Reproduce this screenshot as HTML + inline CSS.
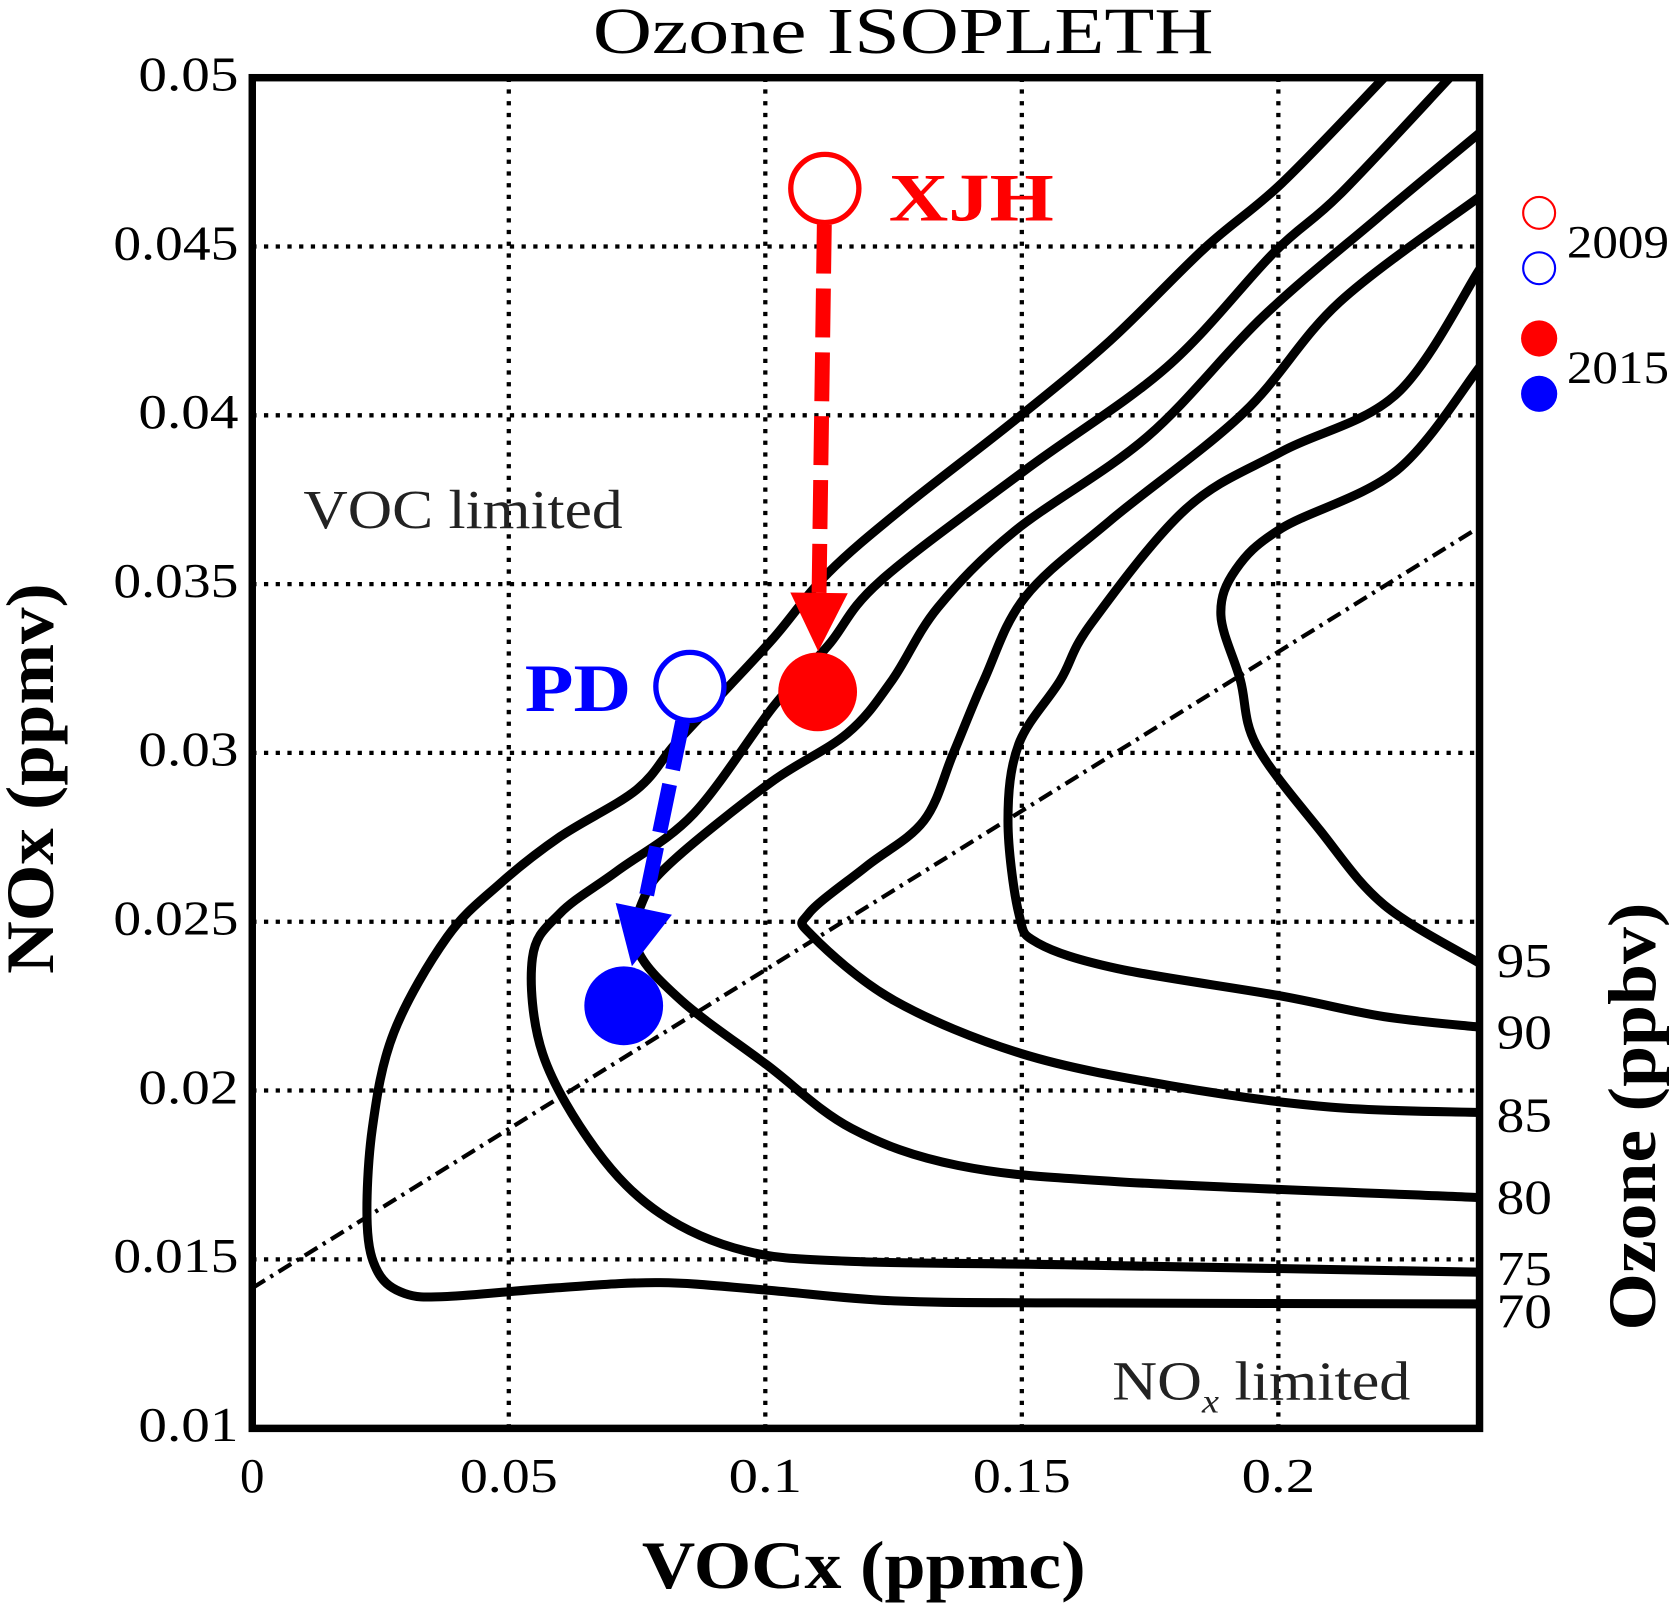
<!DOCTYPE html>
<html><head><meta charset="utf-8"><style>
html,body{margin:0;padding:0;background:#fff;}
svg{display:block;}
text{font-family:"Liberation Serif",serif;}
</style></head><body>
<svg id="chart" width="1669" height="1604" viewBox="0 0 1568 1507" preserveAspectRatio="none" xmlns="http://www.w3.org/2000/svg">
<text x="557" y="50" font-size="62" textLength="583" lengthAdjust="spacingAndGlyphs">Ozone ISOPLETH</text>
<g id="grid"></g>
<g id="contours"></g>
<g id="ticks"></g>
<text x="285" y="496" font-size="52" fill="#222" textLength="300" lengthAdjust="spacingAndGlyphs">VOC limited</text>
<text x="1045" y="1315" font-size="52" fill="#222" textLength="280" lengthAdjust="spacingAndGlyphs">NO<tspan font-size="32" font-style="italic" dy="12">x</tspan><tspan dy="-12"> limited</tspan></text>
<g id="marks"></g>
<rect x="237" y="73" width="1153" height="1269" fill="none" stroke="#000" stroke-width="7"/>
<text x="603" y="1492" font-size="64" font-weight="bold" textLength="417" lengthAdjust="spacingAndGlyphs">VOCx (ppmc)</text>
<text transform="translate(50,915) rotate(-90)" font-size="64" font-weight="bold" textLength="367" lengthAdjust="spacingAndGlyphs">NOx (ppmv)</text>
<text transform="translate(1555,1250) rotate(-90)" font-size="64" font-weight="bold" textLength="402" lengthAdjust="spacingAndGlyphs">Ozone (ppbv)</text>
<text x="835" y="207" font-size="64" font-weight="bold" fill="#f00" textLength="155" lengthAdjust="spacingAndGlyphs">XJH</text>
<text x="493" y="668" font-size="64" font-weight="bold" fill="#00f" textLength="100" lengthAdjust="spacingAndGlyphs">PD</text>
<g>
<circle cx="1446" cy="200" r="15" fill="none" stroke="#f00" stroke-width="2"/>
<circle cx="1446" cy="252" r="15" fill="none" stroke="#00f" stroke-width="2"/>
<circle cx="1446" cy="318" r="17" fill="#f00"/>
<circle cx="1446" cy="370" r="17" fill="#00f"/>
<text x="1472" y="242" font-size="44" textLength="96" lengthAdjust="spacingAndGlyphs">2009</text>
<text x="1472" y="360" font-size="44" textLength="96" lengthAdjust="spacingAndGlyphs">2015</text>
</g>
</svg>
<script>
const xTicks=[0,0.05,0.1,0.15,0.2];
const xTickLabels=["0","0.05","0.1","0.15","0.2"];
const yTicks=[0.01,0.015,0.02,0.025,0.03,0.035,0.04,0.045,0.05];
const yTickLabels=["0.01","0.015","0.02","0.025","0.03","0.035","0.04","0.045","0.05"];
const levels=["70","75","80","85","90","95"];
const c70x=[0.2206,0.2007,0.1857,0.1672,0.1486,0.1272,0.1123,0.1017,0.0921,0.0824,0.0749,0.0600,0.0483,0.0380,0.0276,0.0234,0.0224,0.0245,0.0297,0.0380,0.0587,0.0795,0.1002,0.1251,0.1583,0.2392];
const c70y=[0.0500,0.04688,0.04496,0.04221,0.03985,0.03730,0.03534,0.03342,0.03184,0.03026,0.02891,0.02752,0.02613,0.02455,0.02172,0.01888,0.01604,0.01462,0.01399,0.01390,0.01415,0.01431,0.01409,0.01377,0.01371,0.01368];
const c75x=[0.2334,0.2119,0.1992,0.1782,0.1506,0.1224,0.1123,0.1017,0.0861,0.0712,0.0600,0.0546,0.0566,0.0670,0.0795,0.0961,0.1168,0.1583,0.2392];
const c75y=[0.0500,0.04653,0.04483,0.04142,0.03837,0.03509,0.03319,0.03140,0.02821,0.02651,0.02525,0.02392,0.02109,0.01825,0.01636,0.01525,0.01494,0.01484,0.01462];
const c80x=[0.2392,0.2193,0.1969,0.1745,0.1486,0.1336,0.1247,0.1160,0.1011,0.0824,0.0764,0.0749,0.0836,0.1002,0.1168,0.1376,0.1687,0.2392];
const c80y=[0.04836,0.04584,0.04291,0.03937,0.03657,0.03430,0.03215,0.03058,0.02913,0.02686,0.02572,0.02424,0.02267,0.02077,0.01888,0.01778,0.01730,0.01683];
const c85x=[0.2392,0.2119,0.1932,0.1672,0.1506,0.1426,0.1367,0.1309,0.1197,0.1085,0.1091,0.1251,0.1500,0.1791,0.2102,0.2392];
const c85y=[0.04647,0.04335,0.04007,0.03688,0.03461,0.03215,0.03001,0.02799,0.02664,0.02525,0.02459,0.02267,0.02109,0.02014,0.01951,0.01935];
const c90x=[0.2392,0.2231,0.2007,0.1820,0.1635,0.1575,0.1494,0.1473,0.1494,0.1531,0.1687,0.1998,0.2206,0.2392];
const c90y=[0.04432,0.04064,0.03893,0.03723,0.03383,0.03215,0.03026,0.02799,0.02525,0.02437,0.02361,0.02282,0.02219,0.02188];
const c95x=[0.2392,0.2231,0.2007,0.1917,0.1888,0.1926,0.1957,0.2081,0.2206,0.2392];
const c95y=[0.04142,0.03837,0.03666,0.03543,0.03408,0.03215,0.03023,0.02771,0.02550,0.02377];
const ridgeX=[0,0.2392];
const ridgeY=[0.01415,0.03669];
const site=["XJH","PD"];
const vocX2009=[0.1116,0.0853];
const noxY2009=[0.04672,0.03197];
const vocX2015=[0.1102,0.0724];
const noxY2015=[0.03181,0.02251];
const siteColors=["#f00","#00f"];

const NS="http://www.w3.org/2000/svg";
const X=v=>237+v/0.05*241;
const Y=n=>73+(0.05-n)/0.005*158.6;
function mk(tag,attrs,parent){const e=document.createElementNS(NS,tag);for(const k in attrs)e.setAttribute(k,attrs[k]);parent.appendChild(e);return e;}
const grid=document.getElementById('grid'),ticks=document.getElementById('ticks'),cont=document.getElementById('contours'),marks=document.getElementById('marks');
xTicks.forEach((t,i)=>{
  if(i>0){const l=mk('line',{x1:X(t),x2:X(t),y1:73,y2:1342,stroke:'#000','stroke-width':4,'stroke-dasharray':'4 7'},grid);
  
  }
  const tx=mk('text',{x:X(t),y:1402,'text-anchor':'middle','font-size':46,textLength:xTickLabels[i].length*23,lengthAdjust:'spacingAndGlyphs'},ticks);tx.textContent=xTickLabels[i];
  
  
});
yTicks.forEach((t,i)=>{
  if(i>0&&i<yTicks.length-1){const l=mk('line',{x1:237,x2:1390,y1:Y(t),y2:Y(t),stroke:'#000','stroke-width':4,'stroke-dasharray':'4 7'},grid);
  
  }
  const tx=mk('text',{x:224,y:Y(t)+12,'text-anchor':'end','font-size':46,textLength:yTickLabels[i].length*23.5,lengthAdjust:'spacingAndGlyphs'},ticks);tx.textContent=yTickLabels[i];
  
  
});
function smooth(px,py){
  const p=px.map((x,i)=>[X(x),Y(py[i])]);
  let d='M'+p[0][0]+','+p[0][1];
  for(let i=0;i<p.length-1;i++){
    const p0=p[Math.max(0,i-1)],p1=p[i],p2=p[i+1],p3=p[Math.min(p.length-1,i+2)];
    const c1=[p1[0]+(p2[0]-p0[0])/6,p1[1]+(p2[1]-p0[1])/6],c2=[p2[0]-(p3[0]-p1[0])/6,p2[1]-(p3[1]-p1[1])/6];
    d+=` C${c1[0]},${c1[1]} ${c2[0]},${c2[1]} ${p2[0]},${p2[1]}`;
  }
  return d;
}
const allC=[[c70x,c70y],[c75x,c75y],[c80x,c80y],[c85x,c85y],[c90x,c90y],[c95x,c95y]];
const lblOff=[22,12,15,18,20,13];
allC.forEach((c,i)=>{
  const p=mk('path',{d:smooth(c[0],c[1]),fill:'none',stroke:'#000','stroke-width':8.5,'stroke-linejoin':'round'},cont);
  
  
  const ly=c[1][c[1].length-1];
  const t=mk('text',{x:1406,y:Y(ly)+lblOff[i],'font-size':46,textLength:52,lengthAdjust:'spacingAndGlyphs'},cont);t.textContent=levels[i];
  
  
});
const r=mk('line',{x1:X(ridgeX[0]),y1:Y(ridgeY[0]),x2:X(ridgeX[1]),y2:Y(ridgeY[1]),stroke:'#000','stroke-width':4,'stroke-dasharray':'14 6 3 6'},cont);


site.forEach((s,i)=>{
  const col=siteColors[i];
  const x1=X(vocX2009[i]),y1=Y(noxY2009[i]),x2=X(vocX2015[i]),y2=Y(noxY2015[i]);
  const dx=x2-x1,dy=y2-y1,L=Math.hypot(dx,dy),ux=dx/L,uy=dy/L;
  const sx=x1+ux*34,sy=y1+uy*34,tx=x2-ux*38,ty=y2-uy*38;
  const hx=tx-ux*55,hy=ty-uy*55;
  const ln=mk('line',{x1:sx,y1:sy,x2:hx,y2:hy,stroke:col,'stroke-width':14,'stroke-dasharray':'46 14'},marks);
  
  
  const ah=mk('polygon',{points:`${tx},${ty} ${hx-uy*27},${hy+ux*27} ${hx+uy*27},${hy-ux*27}`,fill:col},marks);
  
  
  const o=mk('circle',{cx:x1,cy:y1,r:32,fill:'#fff',stroke:col,'stroke-width':5},marks);
  
  
  const f=mk('circle',{cx:x2,cy:y2,r:37,fill:col},marks);
  
  
});
</script>
</body></html>
